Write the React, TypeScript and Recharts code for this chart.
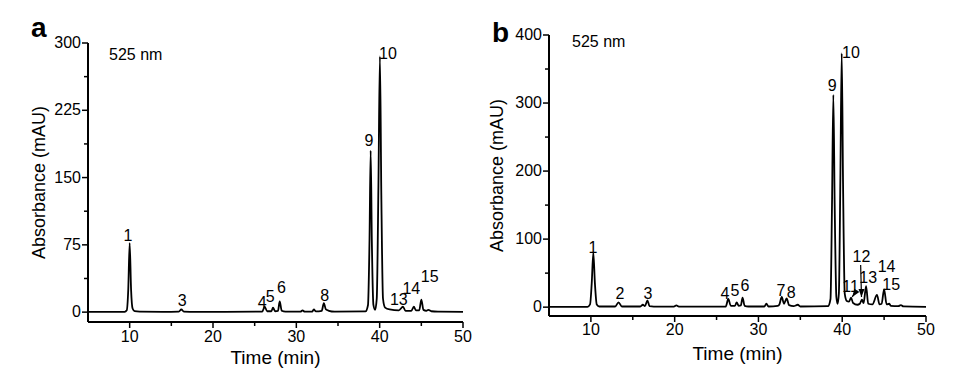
import React from 'react'
import { LineChart, Line, XAxis, YAxis, ReferenceDot, ReferenceLine } from 'recharts'

const FONT = '"Liberation Sans", Arial, Helvetica, sans-serif'

// ticks shared by both panels
const xMajor = [10, 20, 30, 40, 50]
const xMinor = [15, 25, 35, 45]
const yMajorA = [0, 75, 150, 225, 300]
const yMinorA = [37.5, 112.5, 187.5, 262.5]
const yMajorB = [0, 100, 200, 300, 400]
const yMinorB = [50, 150, 250, 350]

// panel a trace: [time (min), absorbance (mAU)]
const traceA: [number, number][] = [
  [5, 0.3], [7, 0.2], [9.4, 0.3], [9.65, 2], [9.83, 25], [10.0, 77], [10.17, 25], [10.35, 4],
  [10.6, 1], [11.2, 0.5], [14, 0.3], [15.9, 0.5], [16.2, 3], [16.5, 0.6], [18, 0.3],
  [25.9, 0.5], [26.2, 6], [26.5, 1], [27.0, 1], [27.2, 5], [27.45, 1], [27.8, 1.5],
  [28.0, 12], [28.25, 1.5], [28.7, 0.5], [30.5, 0.5], [30.75, 2], [31, 0.5], [31.9, 0.6],
  [32.1, 3], [32.35, 0.8], [33.05, 1.5], [33.3, 10], [33.55, 3], [33.9, 1.5], [34.6, 0.6],
  [38.3, 0.8], [38.6, 8], [38.78, 80], [38.92, 180], [39.06, 80], [39.25, 8], [39.45, 2.5],
  [39.65, 15], [39.85, 140], [40.03, 285], [40.2, 130], [40.4, 15], [40.65, 5], [41.2, 3],
  [42.3, 2], [42.8, 6], [43.1, 1.5], [43.8, 1.5], [44.1, 6], [44.35, 2], [44.75, 2],
  [45.0, 14], [45.25, 2.5], [45.6, 1.5], [45.85, 2.5], [46.2, 1], [47, 0.5], [50, 0.3],
]

// panel b trace
const traceB: [number, number][] = [
  [5, 0.5], [9.6, 0.5], [9.9, 4], [10.1, 35], [10.29, 80], [10.48, 35], [10.7, 4], [11.0, 1],
  [12.9, 1], [13.3, 7], [13.7, 1], [15.9, 1], [16.2, 3.5], [16.45, 1.5], [16.75, 10],
  [17.0, 1.5], [17.5, 0.8], [19.9, 0.8], [20.2, 2.5], [20.5, 0.8], [26.1, 1], [26.4, 12],
  [26.7, 2], [27.2, 2], [27.4, 7], [27.65, 2], [27.9, 2.5], [28.1, 14], [28.35, 2], [28.8, 1],
  [30.7, 1], [30.95, 5], [31.2, 1], [32.3, 2], [32.5, 4], [32.78, 15], [33.05, 5],
  [33.37, 13], [33.65, 3], [34.2, 1.5], [34.7, 3.5], [35.0, 1], [38.3, 1.5], [38.6, 12],
  [38.78, 150], [38.94, 312], [39.1, 150], [39.3, 15], [39.45, 5], [39.6, 20], [39.78, 190],
  [39.94, 373], [40.1, 180], [40.3, 20], [40.55, 9], [40.8, 8], [41.05, 14], [41.3, 6],
  [41.8, 3.5], [42.1, 5], [42.35, 11], [42.55, 6], [42.85, 31], [43.1, 5], [43.6, 4],
  [44.15, 18], [44.45, 4], [44.7, 5], [45.0, 26], [45.3, 4], [45.6, 5], [45.8, 2],
  [46.7, 1.5], [47.0, 3], [47.3, 1], [50, 0.5],
]

// peak numbers and where they sit (time, mAU)
const peaksA = [
  { label: '1', t: 9.8, y: 86 },
  { label: '3', t: 16.3, y: 13 },
  { label: '4', t: 25.9, y: 11 },
  { label: '5', t: 26.85, y: 18 },
  { label: '6', t: 28.2, y: 28 },
  { label: '8', t: 33.4, y: 19 },
  { label: '9', t: 38.7, y: 191 },
  { label: '10', t: 41.0, y: 288 },
  { label: '13', t: 42.3, y: 14 },
  { label: '14', t: 43.8, y: 27 },
  { label: '15', t: 46.0, y: 40 },
]

const peaksB = [
  { label: '1', t: 10.25, y: 88 },
  { label: '2', t: 13.47, y: 21 },
  { label: '3', t: 16.8, y: 21 },
  { label: '4', t: 26.0, y: 21 },
  { label: '5', t: 27.2, y: 25 },
  { label: '6', t: 28.4, y: 32 },
  { label: '7', t: 32.7, y: 25 },
  { label: '8', t: 33.9, y: 22 },
  { label: '9', t: 38.8, y: 326 },
  { label: '10', t: 41.05, y: 375 },
  { label: '11', t: 41.0, y: 30 },
  { label: '12', t: 42.3, y: 74 },
  { label: '13', t: 43.1, y: 44 },
  { label: '14', t: 45.3, y: 60 },
  { label: '15', t: 45.85, y: 33 },
]

// arrows pointing at peaks 12 and 11 in panel b
const arrowsB = [
  { t1: 42.2, y1: 62, t2: 42.3, y2: 15, angle: 0 },
  { t1: 41.5, y1: 22, t2: 41.2, y2: 15, angle: 35 },
]

const makeXTick = (labelDy: number) => (props: any) => {
  const { x, y, payload } = props
  const major = xMajor.includes(payload.value)
  return (
    <g>
      <line x1={x} x2={x} y1={y} y2={y + (major ? 6 : 4)} stroke="#000" strokeWidth={1.5} />
      {major && (
        <text x={x} y={y + labelDy} textAnchor="middle" fontSize={16} fontFamily={FONT} fill="#000">
          {payload.value}
        </text>
      )}
    </g>
  )
}

const makeYTick = (majors: number[]) => (props: any) => {
  const { x, y, payload } = props
  const major = majors.includes(payload.value)
  return (
    <g>
      <line x1={x - (major ? 6 : 4)} x2={x} y1={y} y2={y} stroke="#000" strokeWidth={1.5} />
      {major && (
        <text x={x - 7} y={y + 5} textAnchor="end" fontSize={16} fontFamily={FONT} fill="#000">
          {payload.value}
        </text>
      )}
    </g>
  )
}

const ArrowHead = (angle: number) => (props: any) => {
  const { cx, cy } = props
  return (
    <path
      d={`M${cx - 3},${cy - 8} L${cx + 3},${cy - 8} L${cx},${cy} Z`}
      fill="#000"
      transform={`rotate(${angle} ${cx} ${cy})`}
    />
  )
}

const labelStyle = { fontSize: 16, fontFamily: FONT, fill: '#000' }
const titleStyle = { fontSize: 18, fontFamily: FONT, fill: '#000' }

export default function App() {
  const dataA = traceA.map(([t, a]) => ({ t, a }))
  const dataB = traceB.map(([t, a]) => ({ t, a }))

  return (
    <div style={{ position: 'absolute', left: 0, top: 0, width: 959, height: 372, background: '#fff', fontFamily: FONT }}>
      <div style={{ position: 'absolute', left: 0, top: 0 }}>
        <LineChart width={480} height={372} data={dataA} margin={{ top: 43, right: 17, bottom: 0, left: 0 }}>
          <XAxis
            dataKey="t"
            type="number"
            domain={[5, 50]}
            ticks={[...xMajor, ...xMinor].sort((p, q) => p - q)}
            interval={0}
            height={50}
            tickSize={0}
            tickMargin={0}
            tickLine={false}
            tick={makeXTick(20)}
            axisLine={{ stroke: '#000', strokeWidth: 2 }}
            label={{ value: 'Time (min)', position: 'insideBottom', offset: 8, style: { ...titleStyle, fontSize: 19 } }}
          />
          <YAxis
            type="number"
            domain={[-11, 300]}
            allowDataOverflow
            ticks={[...yMajorA, ...yMinorA].sort((p, q) => p - q)}
            interval={0}
            width={88}
            tickSize={0}
            tickMargin={0}
            tickLine={false}
            tick={makeYTick(yMajorA)}
            axisLine={{ stroke: '#000', strokeWidth: 2 }}
            label={{ value: 'Absorbance (mAU)', angle: -90, position: 'insideLeft', offset: 39, style: { ...titleStyle, textAnchor: 'middle' } }}
          />
          <Line type="monotone" dataKey="a" stroke="#000" strokeWidth={1.8} dot={false} isAnimationActive={false} />
          {peaksA.map((p) => (
            <ReferenceDot key={p.label} x={p.t} y={p.y} r={0} fill="none" stroke="none"
              label={{ value: p.label, position: 'center', ...labelStyle }} />
          ))}
        </LineChart>
      </div>

      <div style={{ position: 'absolute', left: 480, top: 0 }}>
        <LineChart width={479} height={372} data={dataB} margin={{ top: 35, right: 33, bottom: 0, left: 0 }}>
          <XAxis
            dataKey="t"
            type="number"
            domain={[5, 50]}
            ticks={[...xMajor, ...xMinor].sort((p, q) => p - q)}
            interval={0}
            height={56}
            tickSize={0}
            tickMargin={0}
            tickLine={false}
            tick={makeXTick(19)}
            axisLine={{ stroke: '#000', strokeWidth: 2 }}
            label={{ value: 'Time (min)', position: 'insideBottom', offset: 12, style: { ...titleStyle, fontSize: 19 } }}
          />
          <YAxis
            type="number"
            domain={[-13, 400]}
            allowDataOverflow
            ticks={[...yMajorB, ...yMinorB].sort((p, q) => p - q)}
            interval={0}
            width={69}
            tickSize={0}
            tickMargin={0}
            tickLine={false}
            tick={makeYTick(yMajorB)}
            axisLine={{ stroke: '#000', strokeWidth: 2 }}
            label={{ value: 'Absorbance (mAU)', angle: -90, position: 'insideLeft', offset: 17, style: { ...titleStyle, textAnchor: 'middle' } }}
          />
          <Line type="monotone" dataKey="a" stroke="#000" strokeWidth={1.8} dot={false} isAnimationActive={false} />
          {arrowsB.map((a, i) => (
            <ReferenceLine key={`s${i}`} segment={[{ x: a.t1, y: a.y1 }, { x: a.t2, y: a.y2 }]} stroke="#000" strokeWidth={1.2} />
          ))}
          {arrowsB.map((a, i) => (
            <ReferenceDot key={`h${i}`} x={a.t2} y={a.y2} r={3} shape={ArrowHead(a.angle)} />
          ))}
          {peaksB.map((p) => (
            <ReferenceDot key={p.label} x={p.t} y={p.y} r={0} fill="none" stroke="none"
              label={{ value: p.label, position: 'center', ...labelStyle }} />
          ))}
        </LineChart>
      </div>

      <svg width={959} height={372} style={{ position: 'absolute', left: 0, top: 0, pointerEvents: 'none' }}>
        <text x={31} y={37} fontSize={28} fontWeight="bold" fontFamily={FONT} fill="#000">a</text>
        <text x={492} y={42} fontSize={28} fontWeight="bold" fontFamily={FONT} fill="#000">b</text>
        <text x={109} y={60} fontSize={16} fontFamily={FONT} fill="#000">525 nm</text>
        <text x={572} y={47} fontSize={16} fontFamily={FONT} fill="#000">525 nm</text>
      </svg>
    </div>
  )
}
